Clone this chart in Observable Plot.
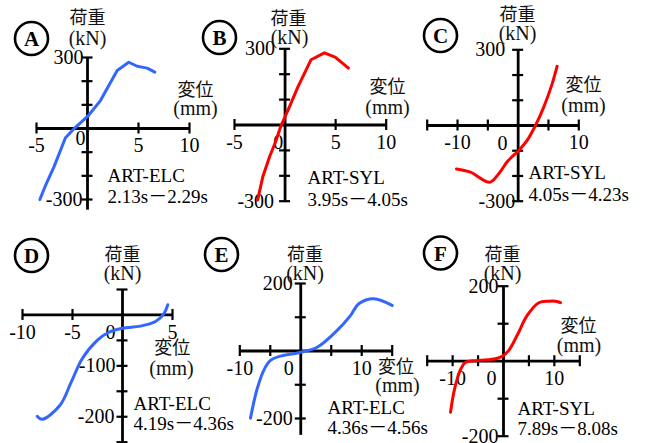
<!DOCTYPE html>
<html><head><meta charset="utf-8">
<script src="https://cdn.jsdelivr.net/npm/d3@7"></script>
<script src="https://cdn.jsdelivr.net/npm/@observablehq/plot@0.6"></script>
<style>
body{margin:0;background:#fff;}
#chart{position:relative;width:645px;height:443px;overflow:hidden;background:#fff;}
#chart svg{position:absolute;left:0;top:0;overflow:visible;}
</style></head><body><div id="chart"></div>
<script>
// ---- data: displacement (mm) and load (kN) ----
const aDisp = [-4.67, -4.12, -3.3, -2.16, -1.18, 0.03, 1.27, 2.91, 4.05, 4.87, 5.85, 6.6];
const aLoad = [-300, -241, -163, -39, 5, 52, 118, 245, 280, 263, 255, 238];
const bDisp = [-2.71, -2.21, -1.55, -0.89, -0.4, 0.27, 1.26, 2.57, 3.89, 4.95, 6.27];
const bLoad = [-295, -205, -127, -61, -2, 57, 149, 257, 284, 267, 224];
const cDisp = [-10.17, -7.87, -4.68, -3.2, -1.71, 0.1, 1.48, 2.85, 4.22, 5.6, 6.43];
const cLoad = [-172, -185, -225, -191, -141, -99, -59, 0, 73, 165, 235];
const dDisp = [-8.53, -8.03, -6.27, -5.13, -4.03, -2.53, -1.37, -0.03, 1.8, 3.3, 4.13, 4.53];
const dLoad = [-199, -205, -178, -132, -86, -50, -34, -26, -22, -13, 2, 20];
const eDisp = [-8.25, -7.15, -5.95, -4.97, -3.33, -0.33, 2.69, 5.97, 8.15, 9.51, 11.98, 14.99];
const eLoad = [-199, -112, -53, -28, -15, -5, 11, 61, 105, 140, 155, 135];
const fDisp = [-10.42, -9.77, -9.1, -8.32, -7.47, -4.86, -2.22, -0.26, 1.04, 2.69, 4.66, 6.94, 8.9, 10.22, 11.2];
const fLoad = [-136, -83, -47, -19, -3, 2, 5, 13, 29, 69, 122, 156, 160, 160, 156];

// ---- panel letters, records, time windows ----
const panelIds = ["A", "B", "C", "D", "E", "F"];
const records = ["ART-ELC", "ART-SYL", "ART-SYL", "ART-ELC", "ART-ELC", "ART-SYL"];
const windows = ["2.13s－2.29s", "3.95s－4.05s", "4.05s－4.23s", "4.19s－4.36s", "4.36s－4.56s", "7.89s－8.08s"];

// ---- axes: domains, ticks and tick labels ----
const xDomains = [[-5, 10], [-5, 10], [-15, 10], [-10, 5], [-10, 15], [-15, 15]];
const yDomains = [[-300, 300], [-300, 300], [-300, 300], [-250, 50], [-200, 200], [-200, 200]];
const yAxisSpans = [[-345, 300], [-300, 300], [-300, 300], [-250, 50], [-250, 200], [-200, 200]];
const xTicks = [[-5, 5, 10], [-5, 5, 10], [-15, -10, -5, 5, 10], [-10, -5, 5], [-10, -5, 5, 10, 15], [-15, -10, -5, 5, 10, 15]];
const yTicks = [[-300, -200, -100, 100, 200, 300], [-300, -200, -100, 100, 200, 300], [-300, -200, -100, 100, 200, 300],
                [-250, -200, -150, -100, -50, 50], [-200, -100, 100, 200], [-200, -100, 100, 200]];
const xTickLabels = [[-5, 0, 5, 10], [-5, 0, 5, 10], [-10, 0, 10], [-10, -5, 0, 5], [-10, 0, 10], [-10, 0, 10]];
const yTickLabels = [[300, -300], [300, -300], [300, -300], [-100, -200], [200, -200], [200, -200]];
const loadLabel = ["荷重", "(kN)"];
const dispLabel = ["変位", "(mm)"];

// ---- layout (pixels) ----
const layouts = [
  {frame:[36,189,199,57], zero:[85,138], yDx:[-4,-5], circle:[31,38], load:[87,18], kN:[87,38], disp:[195,90], mm:[195,108], rec:[107,175], time:[107,196]},
  {frame:[234,385.7,200.7,48.3], zero:[282.7,141.7], yDx:[-10,-11], circle:[219,37], load:[288,19], kN:[289,37.5], disp:[387,87], mm:[387,107], rec:[307,177], time:[307,199]},
  {frame:[426.7,578.3,200.7,49.3], zero:[507,142.7], yDx:[-13,-3], circle:[440,35], load:[517,15], kN:[517,33.5], disp:[583,85], mm:[583,105], rec:[528,172], time:[528,194]},
  {frame:[22,172,441.7,289], zero:[115,331.7], yDx:[-7,-8], circle:[31,255], load:[122,254.5], kN:[122,273.5], disp:[171.7,347.5], mm:[171,368], rec:[133,403], time:[133,423]},
  {frame:[239.3,391.7,418,283], zero:[293.3,367.7], yDx:[-8,-8], circle:[221,254], load:[304.5,254.5], kN:[304.5,273.5], disp:[395.5,367], mm:[397,385], rec:[327,407], time:[327,427]},
  {frame:[426.7,579.3,435.7,285.7], zero:[496,377.7], yDx:[-5,-5], circle:[440,252.5], load:[502,255], kN:[502,273.5], disp:[578,325.5], mm:[578.5,345], rec:[517,408], time:[517,428]}
];

const series = [[aDisp,aLoad],[bDisp,bLoad],[cDisp,cLoad],[dDisp,dLoad],[eDisp,eLoad],[fDisp,fLoad]];
const colors = ["#3366ff", "#ff0000", "#ff0000", "#3366ff", "#3366ff", "#ff0000"];
const curves = ["linear", "linear", "catmull-rom", "catmull-rom", "catmull-rom", "catmull-rom"];

const W = 645, H = 443;
const serif = "'Liberation Serif', 'Times New Roman', serif";
const cjk = "'Noto Sans CJK JP', sans-serif";
const chart = document.getElementById("chart");

panelIds.forEach((id, k) => {
  const L = layouts[k];
  const [x0, x1, yb, yt] = L.frame;
  const xd = xDomains[k], yd = yDomains[k];
  const tickHalf = 5.5;
  const dyUnit = (yd[1] - yd[0]) / (yb - yt);   // data units per px (y)
  const dxUnit = (xd[1] - xd[0]) / (x1 - x0);   // data units per px (x)
  const at = (p, anchor = "middle") => ({frameAnchor: "top-left", dx: p[0] - x0, dy: p[1] - yt, textAnchor: anchor, lineAnchor: "middle"});
  const [xs, ys] = series[k];
  const pts = xs.map((x, i) => ({x, y: ys[i]}));
  const xl = xTickLabels[k];
  const marks = [
    // axes
    Plot.ruleY([0], {x1: xd[0], x2: xd[1], stroke: "black", strokeWidth: 2.8}),
    Plot.ruleX([0], {y1: yAxisSpans[k][0], y2: yAxisSpans[k][1], stroke: "black", strokeWidth: 2.8}),
    Plot.ruleX(xTicks[k], {x: d => d, y1: -tickHalf * dyUnit, y2: tickHalf * dyUnit, stroke: "black", strokeWidth: 2.2}),
    Plot.ruleY(yTicks[k], {y: d => d, x1: -tickHalf * dxUnit, x2: tickHalf * dxUnit, stroke: "black", strokeWidth: 2.2}),
    // tick labels
    Plot.text(xl.filter(d => d !== 0), {x: d => d, y: () => 0, text: d => `${d}`, dy: 17.5, fontSize: 20, fontFamily: serif, fill: "black"}),
    Plot.text(["0"], {...at(L.zero, "end"), fontSize: 20, fontFamily: serif, fill: "black"}),
    ...yTickLabels[k].map((v, j) => Plot.text([v], {x: () => 0, y: d => d, text: d => `${d}`, dx: L.yDx[j], textAnchor: "end", fontSize: 20, fontFamily: serif, fill: "black"})),
    // curve
    Plot.line(pts, {x: "x", y: "y", stroke: colors[k], strokeWidth: 3, curve: curves[k], strokeLinejoin: "round", strokeLinecap: "round"}),
    // axis titles
    Plot.text([loadLabel[0]], {...at(L.load), fontSize: 18, fontFamily: cjk, fill: "#111"}),
    Plot.text([loadLabel[1]], {...at(L.kN), fontSize: 20, fontFamily: serif, fill: "#111"}),
    Plot.text([dispLabel[0]], {...at(L.disp), fontSize: 18, fontFamily: cjk, fill: "#111"}),
    Plot.text([dispLabel[1]], {...at(L.mm), fontSize: 20, fontFamily: serif, fill: "#111"}),
    // record annotation
    Plot.text([records[k]], {...at(L.rec, "start"), fontSize: 19, fontFamily: serif, fill: "black"}),
    Plot.text([windows[k]], {...at(L.time, "start"), fontSize: 19, fontFamily: serif + ", " + cjk, fill: "black"}),
    // panel letter in circle
    Plot.dot([id], {frameAnchor: "top-left", dx: L.circle[0] - x0, dy: L.circle[1] - yt, r: 16.5, stroke: "black", strokeWidth: 2.6, fill: "white"}),
    Plot.text([id], {...at(L.circle), dy: L.circle[1] - yt + 1, fontSize: 21, fontWeight: "bold", fontFamily: serif, fill: "black"})
  ];
  const svg = Plot.plot({
    width: W, height: H,
    marginLeft: x0, marginRight: W - x1, marginTop: yt, marginBottom: H - yb,
    x: {domain: xd, axis: null},
    y: {domain: yd, axis: null},
    style: {background: "transparent", overflow: "visible", fontFamily: serif},
    marks
  });
  chart.appendChild(svg);
});
</script>
</body></html>
